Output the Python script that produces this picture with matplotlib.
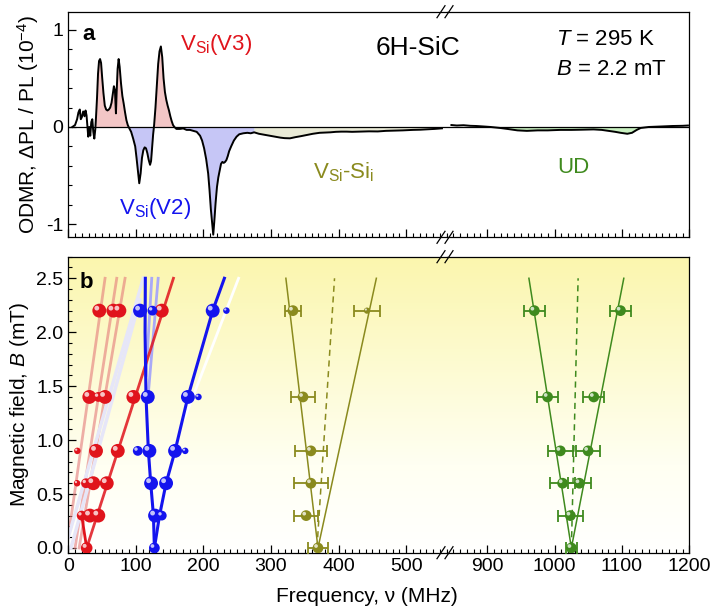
import numpy as np
import matplotlib
matplotlib.use('Agg')
import matplotlib.pyplot as plt
from matplotlib.colors import LinearSegmentedColormap
from matplotlib.lines import Line2D
from matplotlib.ticker import MultipleLocator, FixedLocator
from matplotlib.transforms import offset_copy

plt.rcParams['font.family'] = ['Liberation Sans', 'DejaVu Sans']
plt.rcParams['mathtext.fontset'] = 'custom'
plt.rcParams['mathtext.rm'] = 'Liberation Sans'
plt.rcParams['mathtext.it'] = 'Liberation Sans:italic'
plt.rcParams['mathtext.bf'] = 'Liberation Sans:bold'
plt.rcParams['axes.unicode_minus'] = False

# ---- panel a: ODMR spectrum (MHz, 1e-4) ----
spec_f_left = [6, 10, 13, 15, 17, 18.5, 20, 22, 24, 25.5, 27, 28.5, 29.5, 31, 32.5, 34,
               35.5, 37, 38.5, 40, 41, 42.5, 44, 45.5, 47, 48.5, 50, 52, 54, 56, 58, 60,
               62, 64, 66, 67.5, 69, 70, 70.5, 71.5, 73, 74.5, 76, 78, 80, 82, 84, 86, 88,
               90, 93, 96, 99, 101, 103, 105, 107, 109, 111, 113, 115, 117, 119, 121,
               122.5, 124, 125.5, 127, 129, 131, 133, 135, 137, 139, 141, 143, 145, 147,
               149, 151, 153, 155, 157, 160, 165, 170, 175, 180, 185, 190, 195, 198, 201,
               204, 207, 209, 211, 213, 214.5, 216, 218, 220, 222, 224, 226, 228, 230,
               232, 234, 236, 238, 241, 245, 249, 253, 259, 265, 270, 275, 282, 290, 298,
               306, 314, 320, 328, 336, 344, 353, 362, 372, 380, 388, 396, 404, 412, 420,
               432, 445, 458, 470, 481, 495, 510, 521, 531, 542, 553]
spec_v_left = [0, 0.02, 0.08, 0.15, 0.18, 0.08, 0.1, 0.16, 0.11, 0.17, 0.12, -0.02, -0.1,
               0.0, -0.09, 0.05, 0.08, -0.05, -0.12, -0.02, 0.1, 0.3, 0.55, 0.68, 0.70,
               0.66, 0.52, 0.35, 0.22, 0.18, 0.17, 0.18, 0.2, 0.25, 0.35, 0.42, 0.38, 0.22,
               0.14, 0.35, 0.6, 0.70, 0.62, 0.45, 0.32, 0.24, 0.15, 0.07, 0.02, -0.01,
               -0.05, -0.12, -0.2, -0.32, -0.45, -0.58, -0.48, -0.32, -0.24, -0.21, -0.22,
               -0.27, -0.34, -0.39, -0.35, -0.22, -0.08, 0.02, 0.2, 0.42, 0.65, 0.78, 0.83,
               0.72, 0.5, 0.36, 0.28, 0.22, 0.17, 0.11, 0.06, 0.02, 0.0, -0.02, -0.02,
               -0.015, -0.03, -0.03, -0.04, -0.05, -0.09, -0.14, -0.22, -0.33, -0.48,
               -0.65, -0.85, -1.0, -1.11, -0.98, -0.78, -0.62, -0.52, -0.45, -0.38, -0.36,
               -0.37, -0.36, -0.34, -0.3, -0.25, -0.2, -0.14, -0.1, -0.075, -0.065, -0.06,
               -0.065, -0.055, -0.07, -0.08, -0.09, -0.1, -0.11, -0.115, -0.117, -0.105,
               -0.095, -0.082, -0.07, -0.06, -0.058, -0.055, -0.05, -0.048, -0.048, -0.05,
               -0.048, -0.045, -0.046, -0.04, -0.038, -0.035, -0.03, -0.028, -0.024, -0.02,
               -0.014]
spec_f_right = [847, 855, 865, 875, 884, 895, 905, 919, 930, 945, 959, 975, 990, 1009,
                1025, 1040, 1058, 1070, 1080, 1090, 1098, 1108, 1115, 1122, 1128, 1140,
                1158, 1175, 1190, 1198]
spec_v_right = [0.02, 0.015, 0.018, 0.012, 0.01, 0.005, 0.0, -0.01, -0.02, -0.035, -0.04,
                -0.035, -0.035, -0.03, -0.03, -0.028, -0.025, -0.03, -0.04, -0.05, -0.06,
                -0.07, -0.06, -0.03, -0.01, 0.0, 0.005, 0.01, 0.012, 0.015]

# ---- panel b: line positions vs field ----
v3_field = [2.2, 2.2, 2.2, 2.2, 1.4, 1.4, 1.4, 1.4, 0.9, 0.9, 0.9,
            0.6, 0.6, 0.6, 0.6, 0.3, 0.3, 0.3, 0.0]
v3_freq = [45.9, 66.7, 75.6, 138.3, 31.1, 44.4, 54.4, 96.3, 13.4, 41, 73.2,
           13, 26.2, 37, 56.9, 19.8, 32.1, 44.4, 27.2]
v3_size = [100, 100, 100, 100, 100, 50, 100, 100, 22, 100, 100,
           22, 50, 100, 100, 50, 100, 100, 70]

v2_field = [2.2, 2.2, 2.2, 2.2, 1.4, 1.4, 1.4, 0.9, 0.9, 0.9, 0.9,
            0.6, 0.6, 0.3, 0.3, 0.0]
v2_freq = [106.2, 124.5, 213.7, 234, 117.6, 177, 192.6, 102.8, 120, 158, 173,
           122.5, 144.7, 128.4, 138.3, 127.4]
v2_size = [100, 50, 100, 22, 100, 100, 22, 50, 100, 100, 22,
           100, 100, 100, 50, 60]

v3_line_f = [27.2, 155.6]
v3_line_B = [0.0, 2.5]
v3_branch_f = [27.2, 19.8]
v3_branch_B = [0.0, 0.3]
v3_faint_f = [[0, 54.4], [10, 71.7], [16, 84]]
v3_faint_B = [[0.1, 2.5], [0.0, 2.5], [0.0, 2.5]]

v2_left_f = [127.4, 126, 122, 118.5, 115, 113.6, 114]
v2_left_B = [0.0, 0.3, 0.6, 0.9, 1.4, 2.0, 2.5]
v2_right_f = [127.4, 135, 144.7, 158, 177, 213.7, 231]
v2_right_B = [0.0, 0.3, 0.6, 0.9, 1.4, 2.2, 2.5]
v2_faint_f = [[115, 123.5], [118, 133]]
v2_faint_B = [[1.6, 2.5], [1.4, 2.5]]
pale_f = [[0, 111], [4, 106]]
pale_B = [[0.1, 2.5], [0.0, 2.3]]
white_f = [172, 252]
white_B = [1.2, 2.5]

si_field = [2.2, 2.2, 1.4, 0.9, 0.6, 0.3, 0.0]
si_freq = [332.4, 442, 347.3, 359, 359, 352, 369.5]
si_err = [11.7, 19, 18, 24, 25, 18, 15.5]
si_size = [60, 20, 60, 60, 60, 60, 60]
si_left_f = [369.5, 322]
si_right_f = [369.5, 455.9]
si_dash_f = [368, 394]
si_line_B = [0.0, 2.5]

ud_field = [2.2, 2.2, 1.4, 1.4, 0.9, 0.9, 0.6, 0.6, 0.3, 0.0]
ud_freq = [970, 1097.9, 989.7, 1058.2, 1008.6, 1049.8, 1012, 1036.9, 1023.5, 1025]
ud_err = [15.6, 15.5, 15.5, 15.5, 18.3, 18, 18, 17.4, 18.6, 8.7]
ud_left_f = [1025, 962]
ud_right_f = [1025, 1102.8]
ud_dash_f = [1025, 1035]
ud_line_B = [0.0, 2.5]

RED = '#e0141c'
BLUE = '#1414ee'
OLIVE = '#8a8a1e'
GREEN = '#3f8a1e'

W, H = 715, 612
fig = plt.figure(figsize=(7.15, 6.12), dpi=100)


def px_rect(x0, y0, x1, y1):
    return [x0 / W, 1 - y1 / H, (x1 - x0) / W, (y1 - y0) / H]


XL, XB, XR = 68.3, 446.7, 689.3
ax_aL = fig.add_axes(px_rect(XL, 11.7, XB, 237.3))
ax_aR = fig.add_axes(px_rect(XB, 11.7, XR, 237.3))
ax_bL = fig.add_axes(px_rect(XL, 256.7, XB, 552.7))
ax_bR = fig.add_axes(px_rect(XB, 256.7, XR, 552.7))

for ax in (ax_aL, ax_bL):
    ax.set_xlim(0, 560)
    ax.spines['right'].set_visible(False)
    ax.xaxis.set_major_locator(FixedLocator([0, 100, 200, 300, 400, 500]))
for ax in (ax_aR, ax_bR):
    ax.set_xlim(840, 1200)
    ax.spines['left'].set_visible(False)
    ax.tick_params(axis='y', left=False, labelleft=False)
    ax.xaxis.set_major_locator(FixedLocator([900, 1000, 1100, 1200]))
for ax in (ax_aL, ax_aR, ax_bL, ax_bR):
    ax.xaxis.set_minor_locator(MultipleLocator(10))
    ax.tick_params(which='both', direction='in', top=False, right=False, labelsize=14)
    ax.tick_params(which='major', length=6, width=0.9)
    ax.tick_params(which='minor', length=3, width=0.8)
    for s in ax.spines.values():
        s.set_linewidth(0.9)
for ax in (ax_aL, ax_aR):
    ax.set_ylim(-1.137, 1.188)
    ax.tick_params(axis='x', labelbottom=False)
for ax in (ax_bL, ax_bR):
    ax.set_ylim(-0.044, 2.70)

ax_aL.yaxis.set_major_locator(FixedLocator([-1, 0, 1]))
ax_aL.yaxis.set_minor_locator(MultipleLocator(0.2))
ax_bL.yaxis.set_major_locator(MultipleLocator(0.5))
ax_bL.yaxis.set_minor_locator(MultipleLocator(0.1))
ax_bL.yaxis.set_major_formatter(matplotlib.ticker.FormatStrFormatter('%.1f'))

# ---- panel a ----
fL = np.array(spec_f_left)
vL = np.array(spec_v_left)
fR = np.array(spec_f_right)
vR = np.array(spec_v_right)
ax_aL.fill_between(fL, vL, 0, where=(fL >= 40) & (fL <= 160) & (vL > 0),
                   color='#f3c6c6', lw=0, interpolate=True)
ax_aL.fill_between(fL, vL, 0, where=(fL >= 86) & (fL <= 128) & (vL < 0),
                   color='#c6c6f6', lw=0, interpolate=True)
ax_aL.fill_between(fL, vL, 0, where=(fL >= 157) & (fL <= 275) & (vL < 0),
                   color='#c6c6f6', lw=0, interpolate=True)
ax_aL.fill_between(fL, vL, 0, where=(fL >= 275) & (vL < 0),
                   color='#e9ead6', lw=0, interpolate=True)
ax_aR.fill_between(fR, vR, 0, where=(fR >= 915) & (fR <= 1130) & (vR < 0),
                   color='#c8f0c0', lw=0, interpolate=True)
for ax in (ax_aL, ax_aR):
    ax.axhline(0, color='black', lw=0.9, zorder=2)
ax_aL.plot(fL, vL, color='black', lw=1.4, zorder=3)
ax_aR.plot(fR, vR, color='black', lw=1.4, zorder=3)

ax_aL.set_ylabel(r'ODMR, $\Delta$PL / PL (10$^{-4}$)', fontsize=15, labelpad=4)

# ---- panel b background ----
grad = LinearSegmentedColormap.from_list(
    'bg', [(0, '#ffffff'), (0.3, '#fffff2'), (1, '#fbf6ae')])
gimg = np.linspace(0, 1, 256).reshape(-1, 1)
for ax in (ax_bL, ax_bR):
    ax.imshow(gimg, cmap=grad, aspect='auto', extent=[0, 1, 0, 1], origin='lower',
              transform=ax.transAxes, zorder=0)


def balls(ax, f, b, sizes, color):
    f = np.asarray(f, float)
    b = np.asarray(b, float)
    sizes = np.asarray(sizes, float)
    ax.scatter(f, b, s=sizes, c=color, edgecolors='none', zorder=5)
    for s in np.unique(sizes):
        m = sizes == s
        d = np.sqrt(s) * 0.18
        tr = offset_copy(ax.transData, fig=fig, x=-d, y=d, units='points')
        ax.scatter(f[m], b[m], s=s * 0.12, c='white', alpha=0.75,
                   edgecolors='none', zorder=6, transform=tr)


# V3 and V2 fan
for ff, bb in zip(v3_faint_f, v3_faint_B):
    ax_bL.plot(ff, bb, color='#e47a7a', lw=2, alpha=0.6, zorder=2)
for ff, bb in zip(pale_f, pale_B):
    ax_bL.plot(ff, bb, color='#e6e6f8', lw=2.5, zorder=2)
for ff, bb in zip(v2_faint_f, v2_faint_B):
    ax_bL.plot(ff, bb, color='#a9a9f7', lw=2, zorder=2)
ax_bL.plot(white_f, white_B, color='white', lw=2, zorder=2)
ax_bL.plot(v3_line_f, v3_line_B, color=RED, lw=2, alpha=0.85, zorder=3)
ax_bL.plot(v3_branch_f, v3_branch_B, color=RED, lw=2, zorder=3)
ax_bL.plot(v2_left_f, v2_left_B, color=BLUE, lw=2.2, zorder=3)
ax_bL.plot(v2_right_f, v2_right_B, color=BLUE, lw=2.2, zorder=3)
balls(ax_bL, v3_freq, v3_field, v3_size, RED)
balls(ax_bL, v2_freq, v2_field, v2_size, BLUE)

# VSi-Sii
ax_bL.plot(si_left_f, si_line_B, color=OLIVE, lw=1.1, zorder=3)
ax_bL.plot(si_right_f, si_line_B, color=OLIVE, lw=1.1, zorder=3)
ax_bL.plot(si_dash_f, si_line_B, color=OLIVE, lw=1.1, ls=(0, (4, 3)), zorder=3)
ax_bL.errorbar(si_freq, si_field, xerr=si_err, fmt='none', ecolor=OLIVE,
               elinewidth=1.3, capsize=4.5, capthick=1.3, zorder=4)
balls(ax_bL, si_freq, si_field, si_size, OLIVE)

# UD
ax_bR.plot(ud_left_f, ud_line_B, color=GREEN, lw=1.1, zorder=3)
ax_bR.plot(ud_right_f, ud_line_B, color=GREEN, lw=1.1, zorder=3)
ax_bR.plot(ud_dash_f, ud_line_B, color=GREEN, lw=1.1, ls=(0, (4, 3)), zorder=3)
ax_bR.errorbar(ud_freq, ud_field, xerr=ud_err, fmt='none', ecolor=GREEN,
               elinewidth=1.3, capsize=4.5, capthick=1.3, zorder=4)
balls(ax_bR, ud_freq, ud_field, [60] * len(ud_freq), GREEN)

ax_bL.set_ylabel(r'Magnetic field, $B$ (mT)', fontsize=15, labelpad=4)
fig.text(367 / W, 1 - 596 / H, 'Frequency, ν (MHz)', fontsize=15,
         ha='center', va='center')

# ---- annotations ----
def ftext(x, y, s, **kw):
    fig.text(x / W, 1 - y / H, s, **kw)


ftext(82, 40, 'a', fontsize=16, fontweight='bold', va='baseline')
ftext(80, 288, 'b', fontsize=16, fontweight='bold', va='baseline')
ftext(180, 50, r'V$_{\mathrm{Si}}$(V3)', fontsize=16, color=RED, va='baseline')
ftext(119, 214, r'V$_{\mathrm{Si}}$(V2)', fontsize=16, color=BLUE, va='baseline')
ftext(313, 178, r'V$_{\mathrm{Si}}$-Si$_{\mathrm{i}}$', fontsize=16, color=OLIVE,
      va='baseline')
ftext(557, 173, 'UD', fontsize=16, color=GREEN, va='baseline')
ftext(418, 55, '6H-SiC', fontsize=19, ha='center', va='baseline')
ftext(556, 45, r'$T$ = 295 K', fontsize=16, va='baseline')
ftext(556, 75, r'$B$ = 2.2 mT', fontsize=16, va='baseline')

# ---- axis break marks ----
for yb in (11.7, 237.3, 256.7, 552.7):
    for xc in (441, 449):
        fig.add_artist(Line2D([(xc - 4) / W, (xc + 4) / W],
                              [1 - (yb + 6) / H, 1 - (yb - 6) / H],
                              color='black', lw=0.9))

fig.savefig('out.png', dpi=100)
